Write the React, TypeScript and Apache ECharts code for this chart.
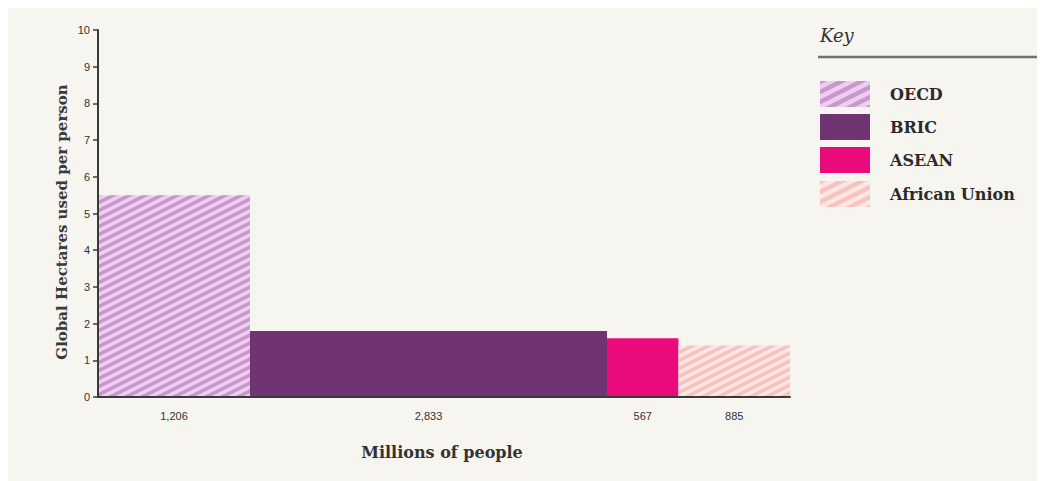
import React, { useEffect, useRef } from 'react';
import * as echarts from 'echarts';

const groups = ['OECD', 'BRIC', 'ASEAN', 'African Union'];
const population = [1206, 2833, 567, 885];
const popLabels = ['1,206', '2,833', '567', '885'];
const hectares = [5.5, 1.8, 1.6, 1.4];
const yAxisTitle = 'Global Hectares used per person';
const xAxisTitle = 'Millions of people';
const keyTitle = 'Key';

const SERIF = '"DejaVu Serif", "Liberation Serif", serif';
const SANS = '"Liberation Sans", Arial, sans-serif';

function stripe(base: string, line: string, w = 16, h = 8, lw = 3.6) {
  const c = document.createElement('canvas');
  c.width = w;
  c.height = h;
  const ctx = c.getContext('2d')!;
  ctx.fillStyle = base;
  ctx.fillRect(0, 0, w, h);
  ctx.strokeStyle = line;
  ctx.lineWidth = lw;
  for (let k = -3; k <= 3; k++) {
    ctx.beginPath();
    ctx.moveTo(-w, h + h + k * h);
    ctx.lineTo(2 * w, h - 2 * h + k * h);
    ctx.stroke();
  }
  return { image: c, repeat: 'repeat', imageWidth: w, imageHeight: h };
}

export default function App() {
  const ref = useRef<HTMLDivElement>(null);
  useEffect(() => {
    document.body.style.overflow = 'hidden';
    const chart = echarts.init(ref.current!, null, { renderer: 'svg' });
    const fills: any[] = [
      stripe('#efcdf0', '#c898cd'),
      '#6f3471',
      '#ea0a7c',
      stripe('#fde7e4', '#f6c3bf'),
    ];
    const keyFills: any[] = [
      stripe('#efcdf0', '#c898cd', 20, 10, 4.5),
      '#6f3471',
      '#ea0a7c',
      stripe('#fde7e4', '#f6c3bf', 20, 10, 4.5),
    ];
    const total = population.reduce((a, b) => a + b, 0);
    let acc = 0;
    const data = population.map((p, i) => {
      const item = [acc, acc + p, hectares[i], i];
      acc += p;
      return item;
    });

    const legendTops = [73, 106, 139, 173];
    const graphics: any[] = [
      {
        type: 'text',
        x: 54,
        y: 214,
        rotation: Math.PI / 2,
        style: { text: yAxisTitle, align: 'center', verticalAlign: 'middle', fontFamily: SERIF, fontWeight: 'bold', fontSize: 15, fill: '#3a3a3a' },
      },
      {
        type: 'text',
        x: 434,
        y: 444,
        style: { text: xAxisTitle, align: 'center', verticalAlign: 'middle', fontFamily: SERIF, fontWeight: 'bold', fontSize: 16, fill: '#333' },
      },
      {
        type: 'text',
        x: 812,
        y: 27,
        style: { text: keyTitle, align: 'left', verticalAlign: 'middle', fontFamily: SERIF, fontStyle: 'italic', fontSize: 18, fill: '#333' },
      },
      {
        type: 'line',
        shape: { x1: 810, y1: 49, x2: 1040, y2: 49 },
        style: { stroke: '#707070', lineWidth: 2.5 },
      },
    ];
    groups.forEach((g, i) => {
      graphics.push({
        type: 'rect',
        shape: { x: 812, y: legendTops[i], width: 50, height: 26 },
        style: { fill: keyFills[i] },
      });
      graphics.push({
        type: 'text',
        x: 882,
        y: legendTops[i] + 13,
        style: { text: g, align: 'left', verticalAlign: 'middle', fontFamily: SERIF, fontWeight: 'bold', fontSize: 16, fill: '#2a2a2a' },
      });
    });

    chart.setOption({
      animation: false,
      backgroundColor: '#f7f5f0',
      grid: { left: 90, top: 22, width: 692, height: 367 },
      xAxis: {
        type: 'value',
        min: 0,
        max: total,
        z: 10,
        axisLine: { show: true, lineStyle: { color: '#3a3a3a', width: 2 } },
        axisTick: { show: false },
        axisLabel: { show: false },
        splitLine: { show: false },
      },
      yAxis: {
        type: 'value',
        min: 0,
        max: 10,
        interval: 1,
        z: 10,
        axisLine: { show: true, lineStyle: { color: '#3a3a3a', width: 2 } },
        axisTick: { show: true, length: 5, lineStyle: { color: '#3a3a3a', width: 1.5 } },
        axisLabel: { color: '#333', fontSize: 11, fontFamily: SANS, margin: 8 },
        splitLine: { show: false },
      },
      series: [
        {
          type: 'custom',
          data,
          renderItem: (params: any, api: any) => {
            const s = api.value(0);
            const e = api.value(1);
            const v = api.value(2);
            const i = api.value(3);
            const p0 = api.coord([s, 0]);
            const p1 = api.coord([e, v]);
            return {
              type: 'group',
              children: [
                {
                  type: 'rect',
                  shape: { x: p0[0], y: p1[1], width: p1[0] - p0[0], height: p0[1] - p1[1] },
                  style: { fill: fills[i] },
                },
                {
                  type: 'text',
                  x: (p0[0] + p1[0]) / 2,
                  y: p0[1] + 19,
                  style: { text: popLabels[i], align: 'center', verticalAlign: 'middle', fontFamily: SANS, fontSize: 11, fill: '#333' },
                },
              ],
            };
          },
        },
      ],
      graphic: graphics,
    });
    return () => chart.dispose();
  }, []);
  return <div ref={ref} style={{ width: 1037, height: 473 }} />;
}
